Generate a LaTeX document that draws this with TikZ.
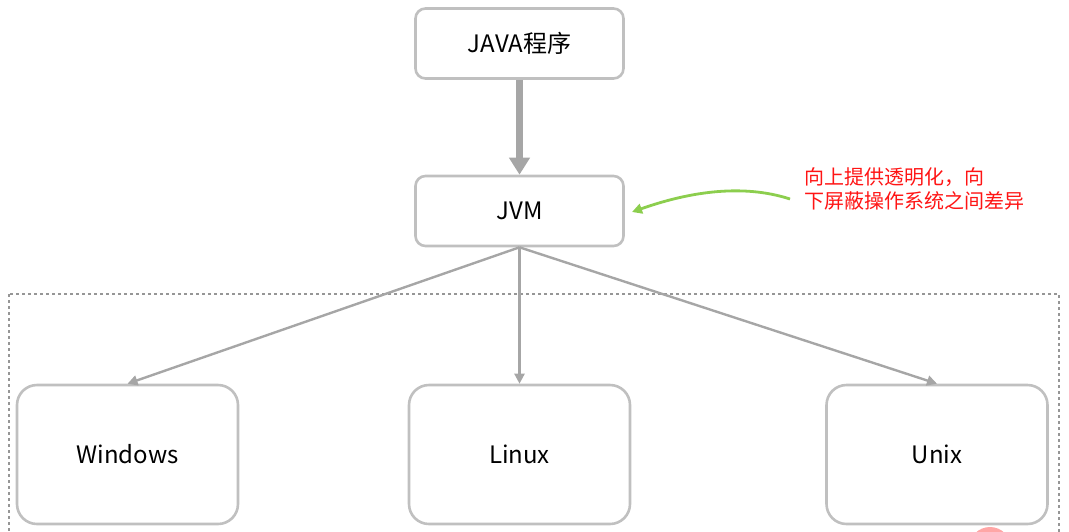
\documentclass[tikz,border=0pt]{standalone}
\usepackage{fontspec}
\setmainfont{Noto Sans CJK SC}
\usetikzlibrary{arrows.meta,positioning}
\definecolor{boxgray}{RGB}{192,192,192}
\definecolor{arrgray}{RGB}{166,166,166}
\definecolor{dotgray}{RGB}{150,150,150}
\definecolor{notegreen}{RGB}{140,206,78}
\definecolor{notered}{RGB}{255,20,20}

\begin{document}
\begin{tikzpicture}[
  x=0.5pt,y=-0.5pt,
  box/.style={draw=boxgray,line width=1.3pt,rounded corners=5pt,fill=white,
              minimum width=104pt,minimum height=35pt,font=\fontsize{12}{14}\selectfont},
  osbox/.style={draw=boxgray,line width=1.3pt,rounded corners=10pt,fill=white,
                minimum width=110.5pt,minimum height=69.5pt,font=\fontsize{12}{14}\selectfont},
  arr/.style={-{Triangle[length=5pt,width=5pt]},line width=1.2pt,arrgray},
  bigarr/.style={-{Triangle[length=8.5pt,width=10pt]},line width=3.5pt,arrgray}
]
\useasboundingbox (0,0) rectangle (1069,531);
\begin{scope}
  \clip (0,0) rectangle (1069,531);
  \draw[dotgray,line width=1.4pt,dash pattern=on 1.5pt off 1.5pt] (9,294) rectangle (1059,560);
  \fill[red!35] (990,548) circle (21);
\end{scope}

\node[box]   (java)  at (519.5,43.5)  {JAVA程序};
\node[box]   (jvm)   at (519.5,211)   {JVM};
\node[osbox] (win)   at (127.5,454.5) {Windows};
\node[osbox] (linux) at (519.5,454.5) {Linux};
\node[osbox] (unix)  at (937,454.5)   {Unix};

\draw[bigarr] (java) -- (jvm);
\draw[arr] (jvm.south) -- (win.north);
\draw[arr] (jvm.south) -- (linux.north);
\draw[arr] (jvm.south) -- (unix.north);

\node[anchor=west,align=left,text=notered,inner sep=0pt,
      font=\fontsize{10}{11.6}\selectfont] (note) at (804,189)
      {向上提供透明化，向\\下屏蔽操作系统之间差异};
\coordinate (tip) at (632,212);
\draw[-{Triangle[length=5pt,width=5pt]},line width=1.4pt,notegreen]
  ([xshift=-7pt,yshift=-5pt]note.west) .. controls (750,186) and (700,188) .. (tip);
\end{tikzpicture}
\end{document}
